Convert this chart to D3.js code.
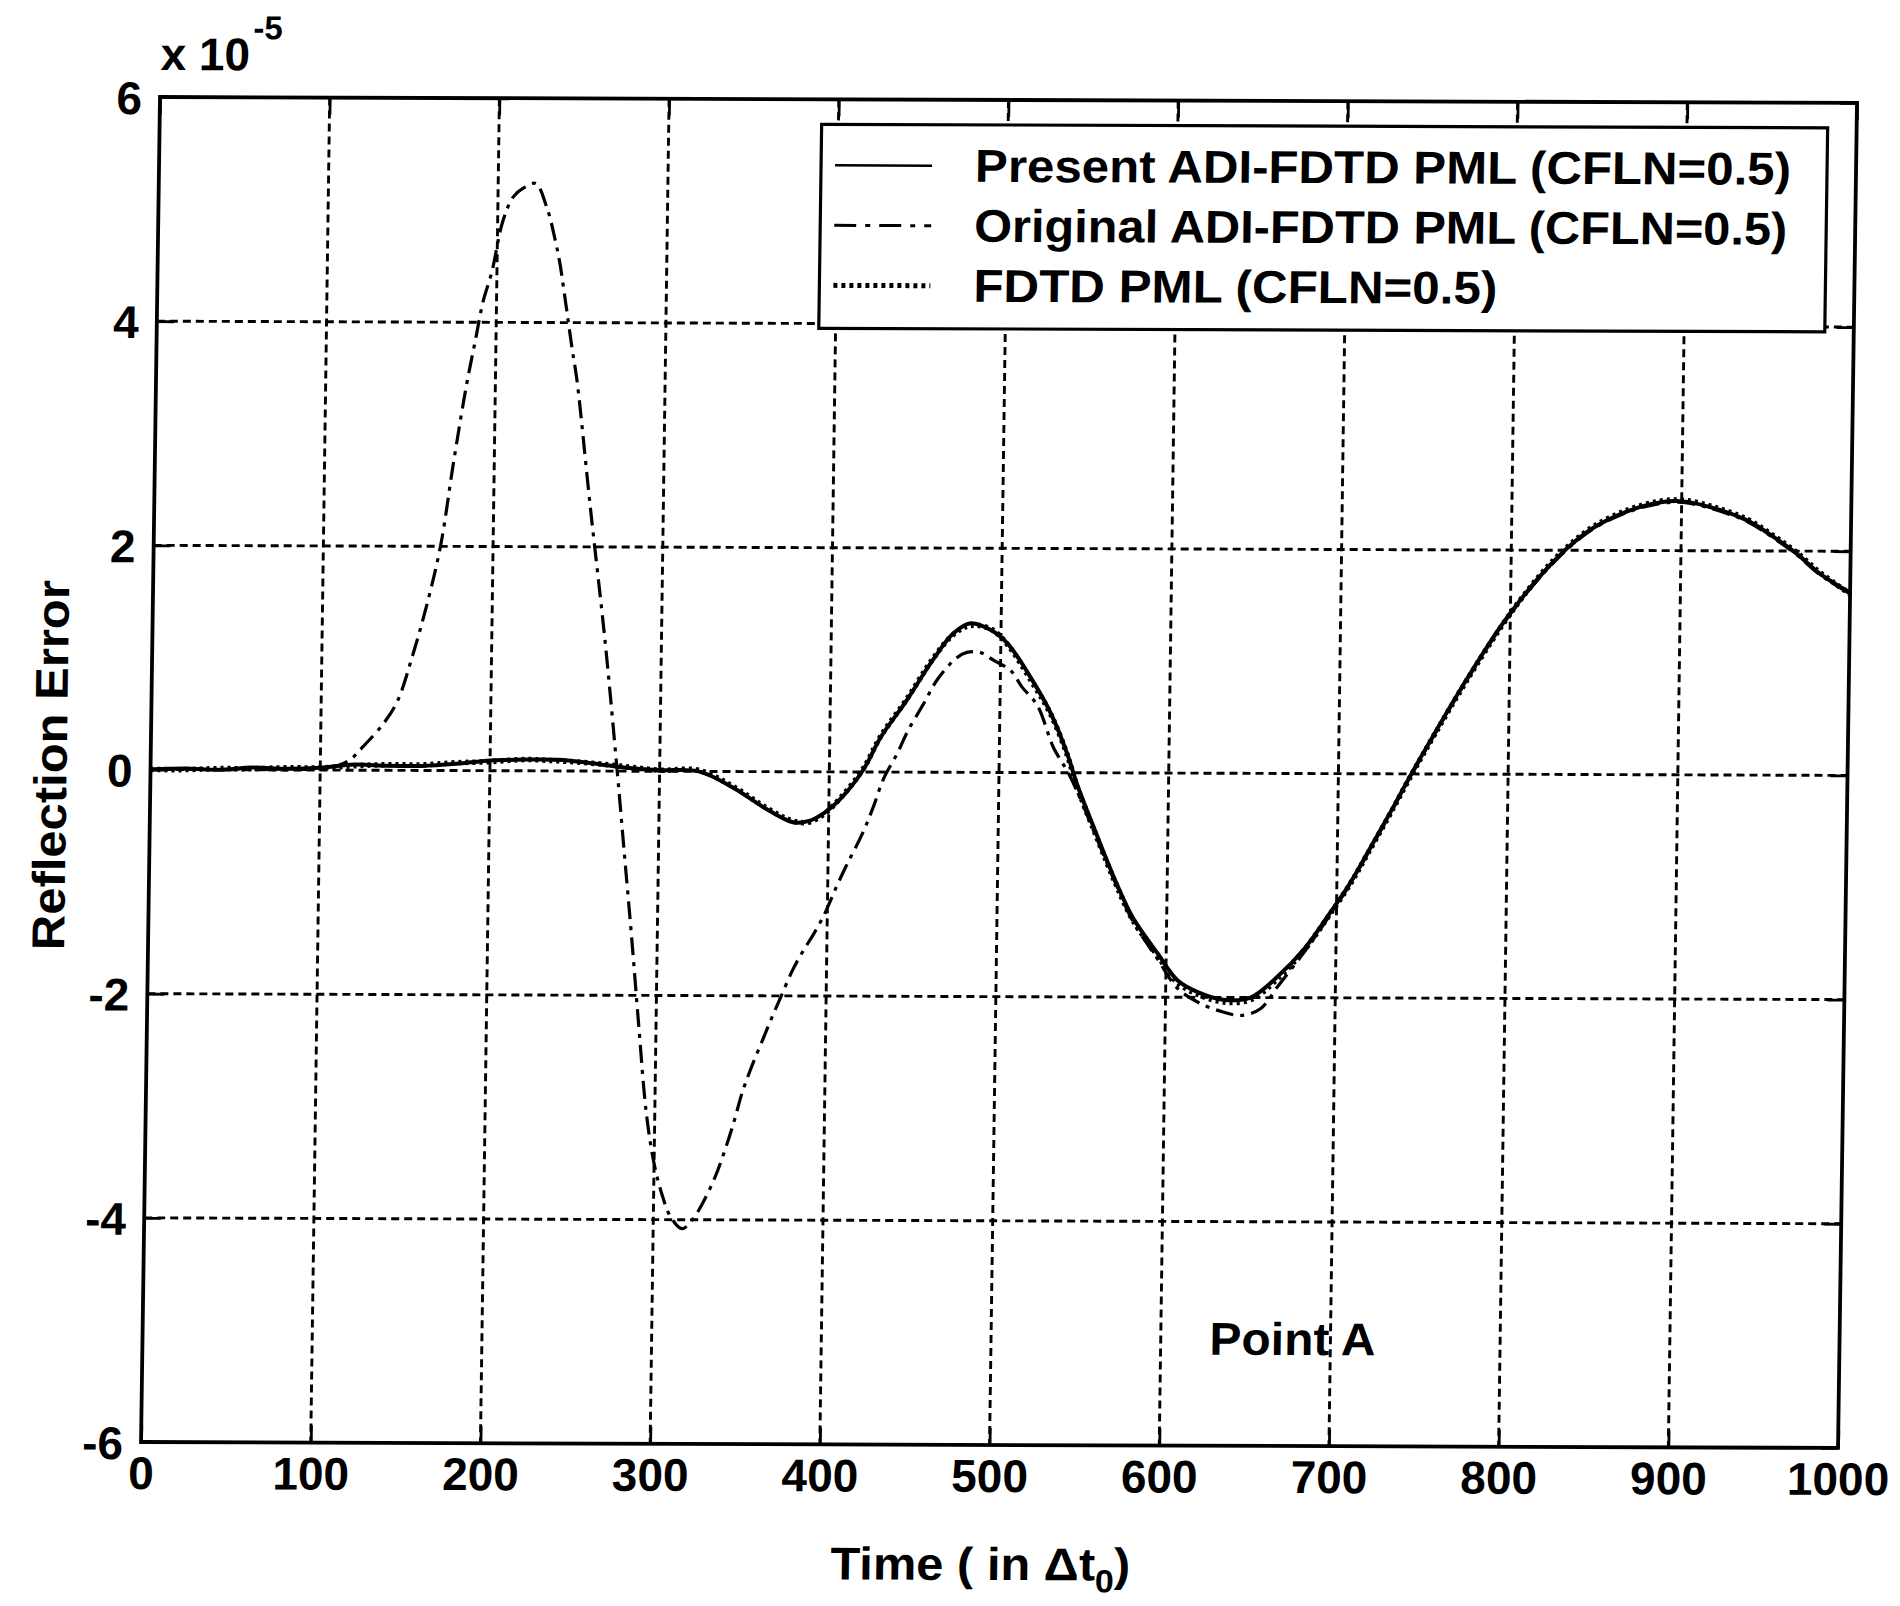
<!DOCTYPE html>
<html>
<head>
<meta charset="utf-8">
<script src="https://cdn.jsdelivr.net/npm/d3@7"></script>
<style>
  html, body { margin: 0; padding: 0; background: #fff; }
  svg { display: block; }
  text { font-family: "Liberation Sans", Arial, Helvetica, sans-serif; font-weight: bold; fill: #000; }
</style>
</head>
<body>
<svg id="chart" width="1900" height="1606"></svg>
<script>
// ---------------- data (values in units of 1e-5) ----------------
const xTicks = [0, 100, 200, 300, 400, 500, 600, 700, 800, 900, 1000];
const xTickLabels = ["0", "100", "200", "300", "400", "500", "600", "700", "800", "900", "1000"];
const yTicks = [-6, -4, -2, 0, 2, 4, 6];
const yTickLabels = ["-6", "-4", "-2", "0", "2", "4", "6"];

const presentT = [0,20,40,60,80,100,120,140,160,180,200,220,240,260,280,300,
  323,343,364,379,388,397,408,420,430,445,
  460,472,482,494,504,519,530,540,546,558,
  570,580,595,607,620,634,650,666,681,695,
  708,718,730,743,757,775,794,806,819,833,
  848,868,887,901,919,939,954,968,982,1000];
const presentV = [0,0.01,0,0.02,0.01,0.02,0.05,0.04,0.04,0.06,0.09,0.1,0.1,0.07,0.03,0.01,
  0,-0.14,-0.34,-0.45,-0.44,-0.37,-0.22,0.02,0.31,0.64,
  1.0,1.24,1.33,1.27,1.15,0.82,0.53,0.17,-0.1,-0.55,
  -0.98,-1.29,-1.61,-1.85,-1.96,-2.02,-2.0,-1.81,-1.57,-1.27,
  -0.97,-0.7,-0.37,0,0.38,0.85,1.31,1.56,1.8,2.02,
  2.2,2.35,2.43,2.44,2.38,2.27,2.13,1.98,1.8,1.63];

const originalT = [0,20,40,60,80,100,110,118,125,137,
  145,153,161,169,176,183,188,192,197,203,
  209,215,222,229,234,237,240,245,248,257,
  267,275,280,285,290,295,300,305,310,317,
  323,329,336,342,347,351,356,363,368,373,
  380,386,392,398,405,411,420,426,432,440,
  446,455,463,474,480,488,496,506,513,522,
  532,540,546,558,570,580,595,607,620,634,
  645,656,666,681,695,708,718,730,743,757,
  775,794,806,819,833,848,868,887,901,919,
  939,954,968,982,1000];
const originalV = [0,0.01,0,0.01,0,0.02,0.04,0.1,0.21,0.42,
  0.62,1.0,1.45,2.0,2.75,3.44,3.85,4.18,4.45,4.9,
  5.12,5.2,5.24,5.02,4.74,4.53,4.25,3.76,3.49,2.35,
  1.13,0.0,-0.75,-1.5,-2.3,-3.05,-3.5,-3.78,-3.97,-4.08,
  -4.0,-3.85,-3.62,-3.36,-3.11,-2.88,-2.66,-2.39,-2.2,-2.02,
  -1.77,-1.6,-1.45,-1.28,-1.03,-0.83,-0.55,-0.32,-0.06,0.17,
  0.37,0.61,0.83,1.02,1.07,1.07,1.0,0.91,0.76,0.6,
  0.22,0.02,-0.16,-0.58,-1.0,-1.32,-1.66,-1.92,-2.05,-2.13,
  -2.16,-2.1,-1.9,-1.6,-1.29,-0.98,-0.71,-0.38,-0.01,0.37,
  0.84,1.3,1.55,1.79,2.01,2.19,2.34,2.42,2.43,2.37,
  2.26,2.12,1.97,1.79,1.62];

const fdtdT = [0,20,40,60,80,100,120,140,160,180,200,220,240,260,280,300,
  323,343,364,379,388,397,408,420,430,445,
  460,472,482,494,504,519,530,540,546,558,
  570,580,595,607,620,634,650,666,681,695,
  708,718,730,743,757,775,794,806,819,833,
  848,868,887,901,919,939,954,968,982,1000];
const fdtdV = [0,0,0.01,0.01,0.02,0.02,0.04,0.05,0.05,0.07,0.08,0.1,0.09,0.07,0.04,0.01,
  0.01,-0.13,-0.33,-0.44,-0.45,-0.38,-0.21,0.03,0.32,0.65,
  1.01,1.23,1.31,1.28,1.14,0.8,0.52,0.16,-0.12,-0.57,
  -1.0,-1.31,-1.63,-1.87,-1.98,-2.04,-2.02,-1.83,-1.58,-1.28,
  -0.98,-0.71,-0.38,-0.01,0.37,0.84,1.3,1.56,1.81,2.03,
  2.21,2.36,2.44,2.45,2.39,2.28,2.14,1.99,1.81,1.62];

const legendLabels = [
  "Present ADI-FDTD PML (CFLN=0.5)",
  "Original ADI-FDTD PML (CFLN=0.5)",
  "FDTD PML (CFLN=0.5)"
];
const yAxisTitle = "Reflection Error";
const annotation = "Point A";

// ---------------- layout ----------------
const W = 1697, H = 1345;
const svg = d3.select("#chart");
// the scanned figure is very slightly sheared; reproduce with an affine map
const g = svg.append("g").attr("transform", "matrix(1,0.0035,-0.0141,1,160,97)");

const x = d3.scaleLinear().domain([0, 1000]).range([0, W]);
const y = d3.scaleLinear().domain([-6, 6]).range([H, 0]);

// grid
const grid = g.append("g");
grid.selectAll("line.vg").data(xTicks.filter(d => d > 0 && d < 1000)).enter()
  .append("line").attr("class", "vg")
  .attr("x1", d => x(d)).attr("x2", d => x(d)).attr("y1", 0).attr("y2", H)
  .attr("stroke", "#000").attr("stroke-width", 2.9).attr("stroke-dasharray", "8,5");
grid.selectAll("line.hg").data(yTicks.filter(d => d > -6 && d < 6)).enter()
  .append("line").attr("class", "hg")
  .attr("x1", 0).attr("x2", W).attr("y1", d => y(d)).attr("y2", d => y(d))
  .attr("stroke", "#000").attr("stroke-width", 2.9).attr("stroke-dasharray", "8,5");

// curves
g.append("clipPath").attr("id", "clip").append("rect").attr("x", 0).attr("y", 0).attr("width", W).attr("height", H);
const line = d3.line().x(d => x(d[0])).y(d => y(d[1])).curve(d3.curveCatmullRom.alpha(0.5));
const zip = (a, b) => a.map((t, i) => [t, b[i]]);
const curves = g.append("g").attr("clip-path", "url(#clip)");
curves.append("path").datum(zip(originalT, originalV)).attr("d", line)
  .attr("fill", "none").attr("stroke", "#000").attr("stroke-width", 3.2).attr("stroke-dasharray", "18,7,4,7");
curves.append("path").datum(zip(presentT, presentV)).attr("d", line)
  .attr("fill", "none").attr("stroke", "#000").attr("stroke-width", 4);
curves.append("path").datum(zip(fdtdT, fdtdV)).attr("d", line)
  .attr("fill", "none").attr("stroke", "#000").attr("stroke-width", 5.5).attr("stroke-dasharray", "3,4");

// axes with inward ticks on all four sides
const tl = 17;
const axB = d3.axisBottom(x).tickValues(xTicks).tickSize(-tl).tickFormat((d, i) => xTickLabels[i]).tickPadding(0);
const axT = d3.axisTop(x).tickValues(xTicks).tickSize(-tl).tickFormat("");
const axL = d3.axisLeft(y).tickValues(yTicks).tickSize(-tl).tickFormat((d, i) => yTickLabels[i]).tickPadding(0);
const axR = d3.axisRight(y).tickValues(yTicks).tickSize(-tl).tickFormat("");

const gB = g.append("g").attr("transform", `translate(0,${H})`).call(axB);
const gT = g.append("g").call(axT);
const gL = g.append("g").call(axL);
const gR = g.append("g").attr("transform", `translate(${W},0)`).call(axR);
[gB, gT, gL, gR].forEach(a => {
  a.select(".domain").remove();
  a.selectAll(".tick line").attr("stroke", "#000").attr("stroke-width", 2.8);
});
gB.selectAll(".tick text").attr("y", 47).attr("dy", 0).attr("font-size", 46)
  .style("font-family", '"Liberation Sans", Arial, sans-serif').style("font-weight", "bold");
gL.selectAll(".tick text").attr("x", -18).attr("dy", "0.36em").attr("font-size", 46)
  .style("font-family", '"Liberation Sans", Arial, sans-serif').style("font-weight", "bold");

// box
g.append("rect").attr("x", 0).attr("y", 0).attr("width", W).attr("height", H)
  .attr("fill", "none").attr("stroke", "#000").attr("stroke-width", 3.8);

// legend
const lg = g.append("g");
lg.append("rect").attr("x", 662).attr("y", 25).attr("width", 1006).attr("height", 204)
  .attr("fill", "#fff").attr("stroke", "#000").attr("stroke-width", 3.2);
const legendStyles = [
  { dash: null, w: 2.5 },
  { dash: "22,9,5,9", w: 3 },
  { dash: "4,4", w: 5 }
];
const legendLens = [816, 813, 524];
legendLabels.forEach((lab, i) => {
  const cy = 66 + i * 60;
  const s = lg.append("line").attr("x1", 676).attr("x2", 773).attr("y1", cy).attr("y2", cy)
    .attr("stroke", "#000").attr("stroke-width", legendStyles[i].w);
  if (legendStyles[i].dash) s.attr("stroke-dasharray", legendStyles[i].dash);
  lg.append("text").attr("x", 816).attr("y", 82 + i * 60).attr("font-size", 46)
    .attr("textLength", legendLens[i]).attr("lengthAdjust", "spacingAndGlyphs").text(lab);
});

// exponent label
const ex = g.append("text").attr("x", 0).attr("y", -27).attr("font-size", 46);
ex.append("tspan").text("x 10");
ex.append("tspan").attr("font-size", 33).attr("dy", -31).attr("dx", 3).text("-5");

// axis titles
g.append("text").attr("transform", `translate(-84,${H / 2 - 4}) rotate(-90)`)
  .attr("text-anchor", "middle").attr("font-size", 46)
  .attr("textLength", 370).attr("lengthAdjust", "spacingAndGlyphs").text(yAxisTitle);

const xt = g.append("text").attr("x", 691).attr("y", 1480).attr("font-size", 46)
  .attr("textLength", 300).attr("lengthAdjust", "spacingAndGlyphs");
xt.append("tspan").text("Time ( in \u0394t");
xt.append("tspan").attr("font-size", 32).attr("dy", 12).text("0");
xt.append("tspan").attr("dy", -12).text(")");

// annotation
g.append("text").attr("x", 1067).attr("y", 1254).attr("font-size", 46)
  .attr("textLength", 166).attr("lengthAdjust", "spacingAndGlyphs").text(annotation);
</script>
</body>
</html>
